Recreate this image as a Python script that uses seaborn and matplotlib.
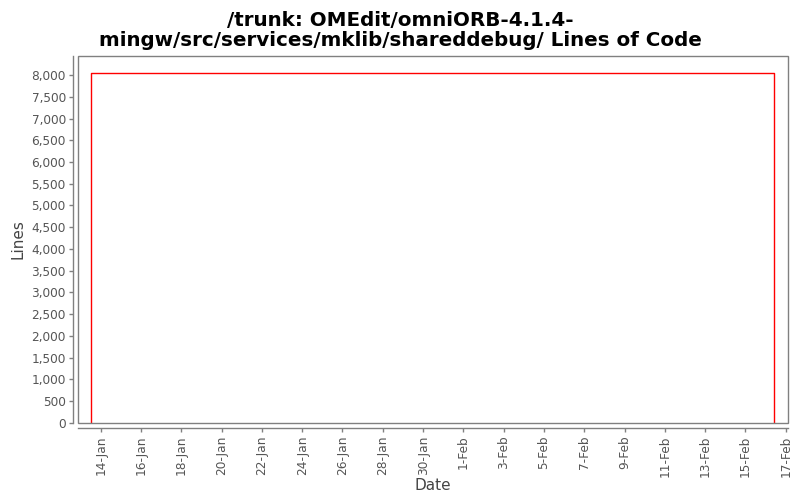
import matplotlib
matplotlib.use("Agg")
import matplotlib.pyplot as plt
import matplotlib.ticker as mticker
import matplotlib.patches as mpatches
import seaborn as sns
import pandas as pd

# Data
dates = ["2010-01-13 13:00", "2010-01-13 13:00", "2010-02-16 10:20", "2010-02-16 10:20"]
lines = [0, 8046, 8046, 0]
tick_dates = ["2010-01-14", "2010-01-16", "2010-01-18", "2010-01-20", "2010-01-22",
              "2010-01-24", "2010-01-26", "2010-01-28", "2010-01-30", "2010-02-01",
              "2010-02-03", "2010-02-05", "2010-02-07", "2010-02-09", "2010-02-11",
              "2010-02-13", "2010-02-15", "2010-02-17"]
tick_labels = ["14-Jan", "16-Jan", "18-Jan", "20-Jan", "22-Jan", "24-Jan", "26-Jan",
               "28-Jan", "30-Jan", "1-Feb", "3-Feb", "5-Feb", "7-Feb", "9-Feb",
               "11-Feb", "13-Feb", "15-Feb", "17-Feb"]
title = "/trunk: OMEdit/omniORB-4.1.4-\nmingw/src/services/mklib/shareddebug/ Lines of Code"

df = pd.DataFrame({"Date": pd.to_datetime(dates), "Lines": lines})

sns.set_style("white")
plt.rcParams['font.family'] = ['DejaVu Sans']

fig = plt.figure(figsize=(8, 5), dpi=100)
ax = fig.add_axes([0.0979, 0.1546, 0.985 - 0.0979, 0.888 - 0.1546])

sns.lineplot(data=df, x="Date", y="Lines", estimator=None, sort=False,
             color="#ff0000", linewidth=1.0, ax=ax)

ax.set_xlim(pd.Timestamp("2010-01-12 21:20"), pd.Timestamp("2010-02-17 02:40"))
ax.set_ylim(0, 8440)

ax.yaxis.set_major_locator(mticker.MultipleLocator(500))
ax.yaxis.set_major_formatter(mticker.FuncFormatter(lambda v, p: f"{int(v):,}"))
ax.set_xticks(pd.to_datetime(tick_dates))
ax.set_xticklabels(tick_labels)

gray = "#808080"
for s in ["top", "right"]:
    ax.spines[s].set_visible(False)
for s in ["left", "bottom"]:
    ax.spines[s].set_position(("outward", 4))
    ax.spines[s].set_color(gray)
    ax.spines[s].set_linewidth(1.0)

border = mpatches.Rectangle((0, 0), 1, 1, transform=ax.transAxes, fill=False,
                            edgecolor=gray, linewidth=1.0, clip_on=False, zorder=5)
ax.add_patch(border)

ax.tick_params(axis="both", which="major", labelsize=8.7, colors=gray,
               labelcolor="#555555", length=3, width=1, direction="out",
               left=True, bottom=True, pad=2)
ax.tick_params(axis="x", labelrotation=90)

ax.set_xlabel("Date", fontsize=11, color="#444444", labelpad=1)
ax.set_ylabel("Lines", fontsize=11, color="#444444", labelpad=4)

fig.suptitle(title, fontsize=14.3, fontweight="bold", color="black",
             y=0.978, linespacing=1.05)

fig.savefig("out.png", dpi=100)
